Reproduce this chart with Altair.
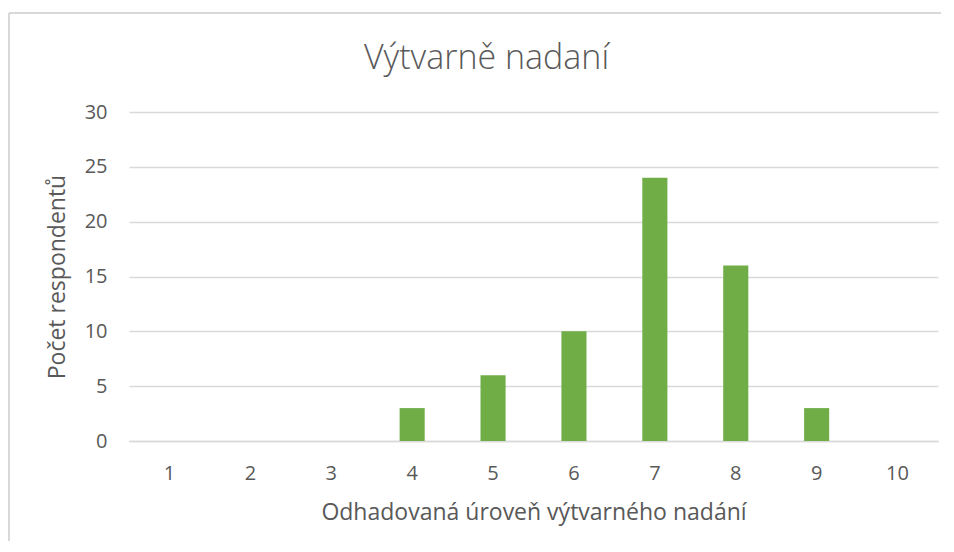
import altair as alt
import pandas as pd

levels = ["1", "2", "3", "4", "5", "6", "7", "8", "9", "10"]
counts = [0, 0, 0, 3, 6, 10, 24, 16, 3, 0]

df = pd.DataFrame({"level": levels, "count": counts})

FONT = "Open Sans"
GRAY = "#595959"

bars = alt.Chart(df).mark_bar(color="#70AD47").encode(
    x=alt.X("level:N", sort=levels,
            scale=alt.Scale(paddingInner=0.69, paddingOuter=0.345),
            axis=alt.Axis(title="Odhadovaná úroveň výtvarného nadání", labelAngle=0,
                          labelFontSize=20, labelColor=GRAY, labelPadding=22,
                          titleFontSize=23, titleColor=GRAY, titleFontWeight="normal",
                          titlePadding=18, ticks=False, domainColor="#D9D9D9",
                          domainWidth=1.5, labelFont=FONT, titleFont=FONT)),
    y=alt.Y("count:Q", scale=alt.Scale(domain=[0, 30]),
            axis=alt.Axis(title="Počet respondentů", values=[0, 5, 10, 15, 20, 25, 30],
                          labelFontSize=20, labelColor=GRAY, labelPadding=22,
                          titleFontSize=23, titleColor=GRAY, titleFontWeight="normal",
                          titlePadding=15, ticks=False, domain=False,
                          gridColor="#D9D9D9", gridWidth=1.5,
                          labelFont=FONT, titleFont=FONT)),
)

border_top = alt.Chart(df).mark_rule(stroke="#D9D9D9", strokeWidth=1.5).encode(
    x=alt.value(-120), x2=alt.value(812), y=alt.value(-99), y2=alt.value(-99)
)
border_left = alt.Chart(df).mark_rule(stroke="#D9D9D9", strokeWidth=1.5).encode(
    x=alt.value(-120), y=alt.value(-99), y2=alt.value(460)
)

chart = alt.layer(border_top, border_left, bars).properties(
    width=809, height=329,
    title=alt.Title("Výtvarně nadaní", fontSize=34, font=FONT, fontWeight=300,
                    color=GRAY, anchor="middle", offset=-64, dx=-47),
    autosize=alt.AutoSizeParams(type="none"),
    padding={"left": 121, "top": 104, "right": 8, "bottom": 100},
).configure_view(stroke=None)

chart.save("out.html", embed_options={"renderer": "svg", "actions": False})
